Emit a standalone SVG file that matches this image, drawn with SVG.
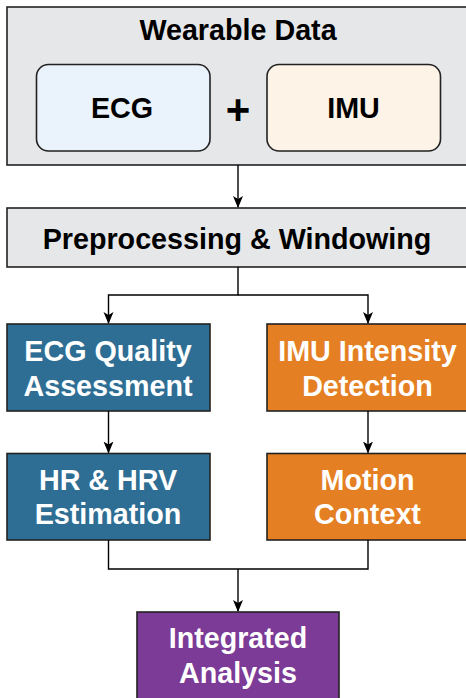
<svg xmlns="http://www.w3.org/2000/svg" width="466" height="698" viewBox="0 0 466 698">
<defs>
<marker id="arr" viewBox="0 0 12 12" refX="11" refY="6" markerWidth="12" markerHeight="12" markerUnits="userSpaceOnUse" orient="auto">
<path d="M0,1 L12,6 L0,11 L3,6 Z" fill="#000"/>
</marker>
</defs>
<style>
text{font-family:"Liberation Sans",Arial,sans-serif;font-weight:bold;font-size:28.7px;text-anchor:middle}
.dk{fill:#000}
.wt{fill:#fff}
.box{stroke:#222;stroke-width:1.6}
.edge{fill:none;stroke:#000;stroke-width:1.4}
</style>
<g id="wearable">
<rect class="box" x="7" y="7" width="462" height="158" fill="#e6e7e9"/>
<text class="dk" x="238" y="40">Wearable Data</text>
</g>
<g id="ecg">
<rect class="box" x="36.5" y="64.5" width="173.5" height="86.5" rx="12" fill="#eaf2fb"/>
<text class="dk" x="122" y="118">ECG</text>
</g>
<g id="plus"><text class="dk" x="238" y="124" style="font-size:42px">+</text></g>
<g id="imu">
<rect class="box" x="267" y="64.5" width="173.5" height="86.5" rx="12" fill="#fdf3e6"/>
<text class="dk" x="353.5" y="118">IMU</text>
</g>
<g id="preprocessing">
<rect class="box" x="7" y="208" width="462" height="59" fill="#e6e7e9"/>
<text class="dk" x="237" y="249">Preprocessing &amp; Windowing</text>
</g>
<g id="ecgquality">
<rect class="box" x="7" y="324" width="203" height="87" fill="#2e6e94"/>
<text class="wt" x="108" y="361">ECG Quality</text>
<text class="wt" x="108" y="396">Assessment</text>
</g>
<g id="imuintensity">
<rect class="box" x="267" y="324" width="203" height="87" fill="#e57f23"/>
<text class="wt" x="367.5" y="361">IMU Intensity</text>
<text class="wt" x="367.5" y="396">Detection</text>
</g>
<g id="hrhrv">
<rect class="box" x="7" y="453.5" width="203" height="86.5" fill="#2e6e94"/>
<text class="wt" x="108" y="490">HR &amp; HRV</text>
<text class="wt" x="108" y="524">Estimation</text>
</g>
<g id="motion">
<rect class="box" x="267" y="453.5" width="203" height="86.5" fill="#e57f23"/>
<text class="wt" x="367.5" y="490">Motion</text>
<text class="wt" x="367.5" y="524">Context</text>
</g>
<g id="integrated">
<rect class="box" x="137" y="612" width="202" height="90" fill="#7b3b96"/>
<text class="wt" x="238" y="648">Integrated</text>
<text class="wt" x="238" y="683">Analysis</text>
</g>
<g id="connectors">
<path class="edge" d="M238,165 V207" marker-end="url(#arr)"/>
<path class="edge" d="M238,267 V295 H108.5 V323" marker-end="url(#arr)"/>
<path class="edge" d="M238,295 H368 V323" marker-end="url(#arr)"/>
<path class="edge" d="M108.5,411 V452.5" marker-end="url(#arr)"/>
<path class="edge" d="M368,411 V452.5" marker-end="url(#arr)"/>
<path class="edge" d="M108.5,540 V569 H368 V540"/>
<path class="edge" d="M238,569 V611" marker-end="url(#arr)"/>
</g>
</svg>
